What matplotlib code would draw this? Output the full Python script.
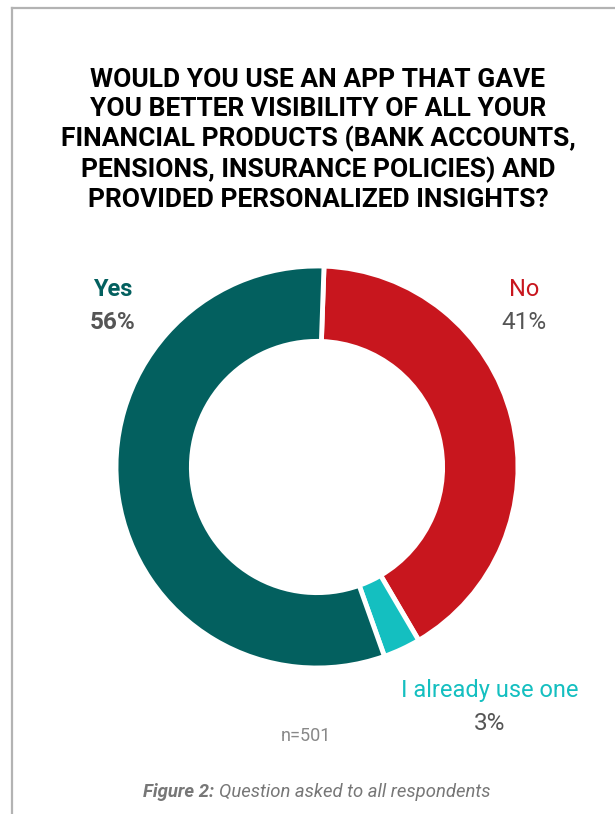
import matplotlib.pyplot as plt
from matplotlib.lines import Line2D

# survey answers, drawn clockwise from the top
labels = ["No", "I already use one", "Yes"]
shares = [41, 3, 56]
colors = ["#c8161e", "#14bfc0", "#03605f"]
n_resp = 501

title = ("WOULD YOU USE AN APP THAT GAVE\n"
         "YOU BETTER VISIBILITY OF ALL YOUR\n"
         "FINANCIAL PRODUCTS (BANK ACCOUNTS,\n"
         "PENSIONS, INSURANCE POLICIES) AND\n"
         "PROVIDED PERSONALIZED INSIGHTS?")

FONT = ["Liberation Sans Narrow", "Roboto", "DejaVu Sans"]
plt.rcParams["font.family"] = FONT

W, H = 615, 814
fig = plt.figure(figsize=(W / 100, H / 100), dpi=100)
fig.patch.set_facecolor("white")

def fx(px):
    return px / W

def fy(py):
    return 1 - py / H

# page frame (top and left edges)
fig.add_artist(Line2D([fx(12), 1], [fy(8), fy(8)], color="#b3b3b3", lw=1.6))
fig.add_artist(Line2D([fx(12), fx(12)], [fy(8), 0], color="#b3b3b3", lw=1.6))

fig.text(fx(318), fy(140), title, ha="center", va="center", fontsize=19,
         fontweight="bold", color="black", linespacing=1.25)

# donut
ax = fig.add_axes([fx(116), fy(668), fx(402), 402 / H])
ax.pie(shares, colors=colors, startangle=88, counterclock=False, radius=1,
       wedgeprops=dict(width=0.375, edgecolor="white", linewidth=3.5))
ax.set_xlim(-1.0, 1.0)
ax.set_ylim(-1.0, 1.0)
ax.set_aspect("equal")
ax.axis("off")

# slice labels
lab_pos = {"Yes": (113, 290), "No": (524, 290), "I already use one": (490, 690)}
for lab, val, col in zip(labels, shares, colors):
    x, y = lab_pos[lab]
    heavy = "bold" if lab == "Yes" else "normal"
    fig.text(fx(x), fy(y), lab, ha="center", va="center", fontsize=17,
             color=col, fontweight=heavy)
    fig.text(fx(x), fy(y + 33), f"{val}%", ha="center", va="center",
             fontsize=17.5, color="#555555", fontweight=heavy)

fig.text(fx(306), fy(736), f"n={n_resp}", ha="center", va="center",
         fontsize=13, color="#888888")

cap1 = fig.text(fx(143), fy(792), "Figure 2:", ha="left", va="center",
                fontsize=13.3, color="#777777", fontweight="bold", style="italic")
fig.canvas.draw()
bb = cap1.get_window_extent()
fig.text((bb.x1 + 5) / W, fy(792), "Question asked to all respondents",
         ha="left", va="center", fontsize=13.3, color="#777777", style="italic")

fig.savefig("out.png", dpi=100, facecolor="white")
